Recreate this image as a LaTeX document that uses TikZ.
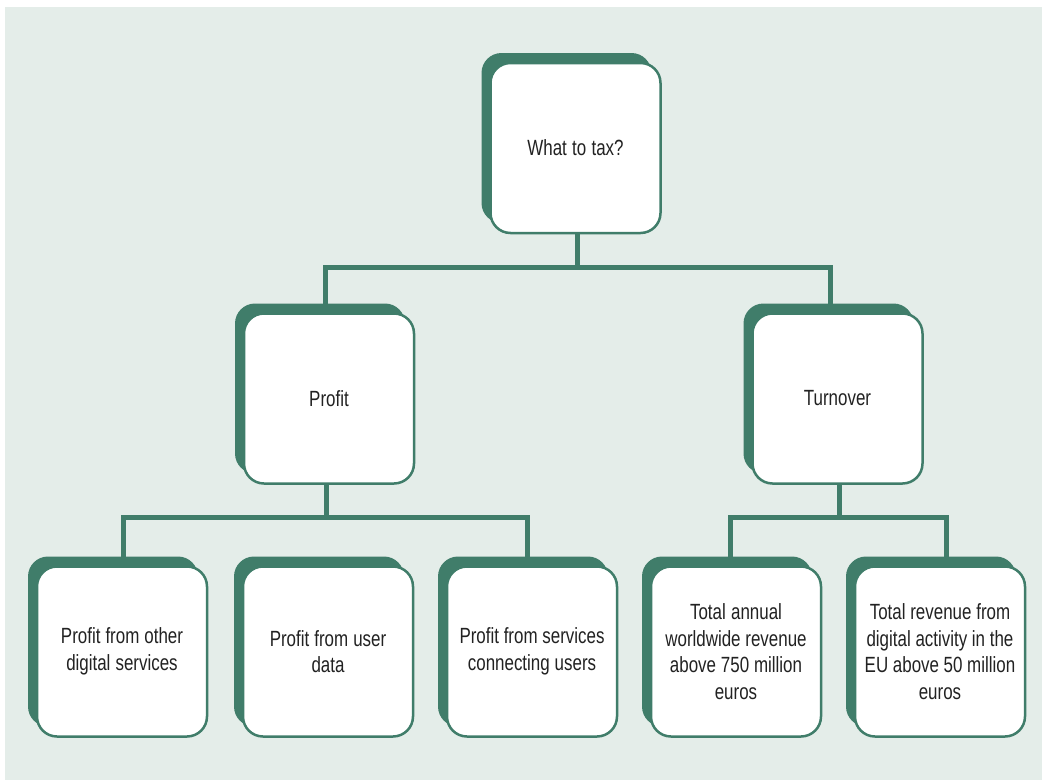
\documentclass[tikz,border=0pt]{standalone}
\usepackage{fontspec}
\setmainfont{Liberation Sans}[FakeStretch=0.77]
\usetikzlibrary{shadows}
\definecolor{bgc}{HTML}{E4EDE9}
\definecolor{grn}{HTML}{407D6A}
\definecolor{txt}{HTML}{222222}
\newcommand\boxfont{\fontsize{22}{26.5}\selectfont}
\newcommand\tightspaces{\spaceskip=4.5pt plus 1pt minus 1pt\relax}
\pgfdeclarelayer{bglayer}
\pgfdeclarelayer{connlayer}
\pgfsetlayers{bglayer,connlayer,main}
\begin{document}
\begin{tikzpicture}[x=1pt,y=-1pt,
 box/.style={rectangle, rounded corners=20pt, draw=grn, line width=2.5pt, fill=white,
   minimum width=170pt, minimum height=170pt, inner sep=0pt, text width=165pt, align=center,
   text=txt, font=\boxfont, execute at begin node=\tightspaces,
   general shadow={fill=grn, shadow xshift=-9pt, shadow yshift=10pt}},
 conn/.style={draw=grn, line width=5pt}]
\useasboundingbox (0,0) rectangle (1042,780);
\begin{pgfonlayer}{bglayer}
\fill[bgc] (5,7) rectangle (1042,780);
\end{pgfonlayer}
\node[box] (top) at (575.5,148) {What to tax?};
\node[box] (profit) at (329,398.5) {Profit};
\node[box] (turnover) at (837.5,398.5) {Turnover};
\node[box] (b1) at (122,651.5) {Profit from other\\digital services};
\node[box] (b2) at (328,651.5) {Profit from user\\data};
\node[box] (b3) at (532,651.5) {Profit from services\\connecting users};
\node[box] (b4) at (736,651.5) {Total annual\\worldwide revenue\\above 750 million\\euros};
\node[box] (b5) at (940,651.5) {Total revenue from\\digital activity in the\\EU above 50 million\\euros};
\begin{pgfonlayer}{connlayer}
\draw[conn] ([xshift=1.5pt]top.south) -- ++(0,33) coordinate (j1);
\draw[conn] ([xshift=-4pt]profit.north) |- (j1) -| ([xshift=-7pt]turnover.north);
\draw[conn] ([xshift=-3pt]profit.south) -- ++(0,33) coordinate (j2);
\draw[conn] ([xshift=1pt]b1.north) |- (j2) -| ([xshift=-5pt]b3.north);
\draw[conn] ([xshift=1.5pt]turnover.south) -- ++(0,33) coordinate (j3);
\draw[conn] ([xshift=-6pt]b4.north) |- (j3) -| ([xshift=6pt]b5.north);
\end{pgfonlayer}
\end{tikzpicture}
\end{document}
